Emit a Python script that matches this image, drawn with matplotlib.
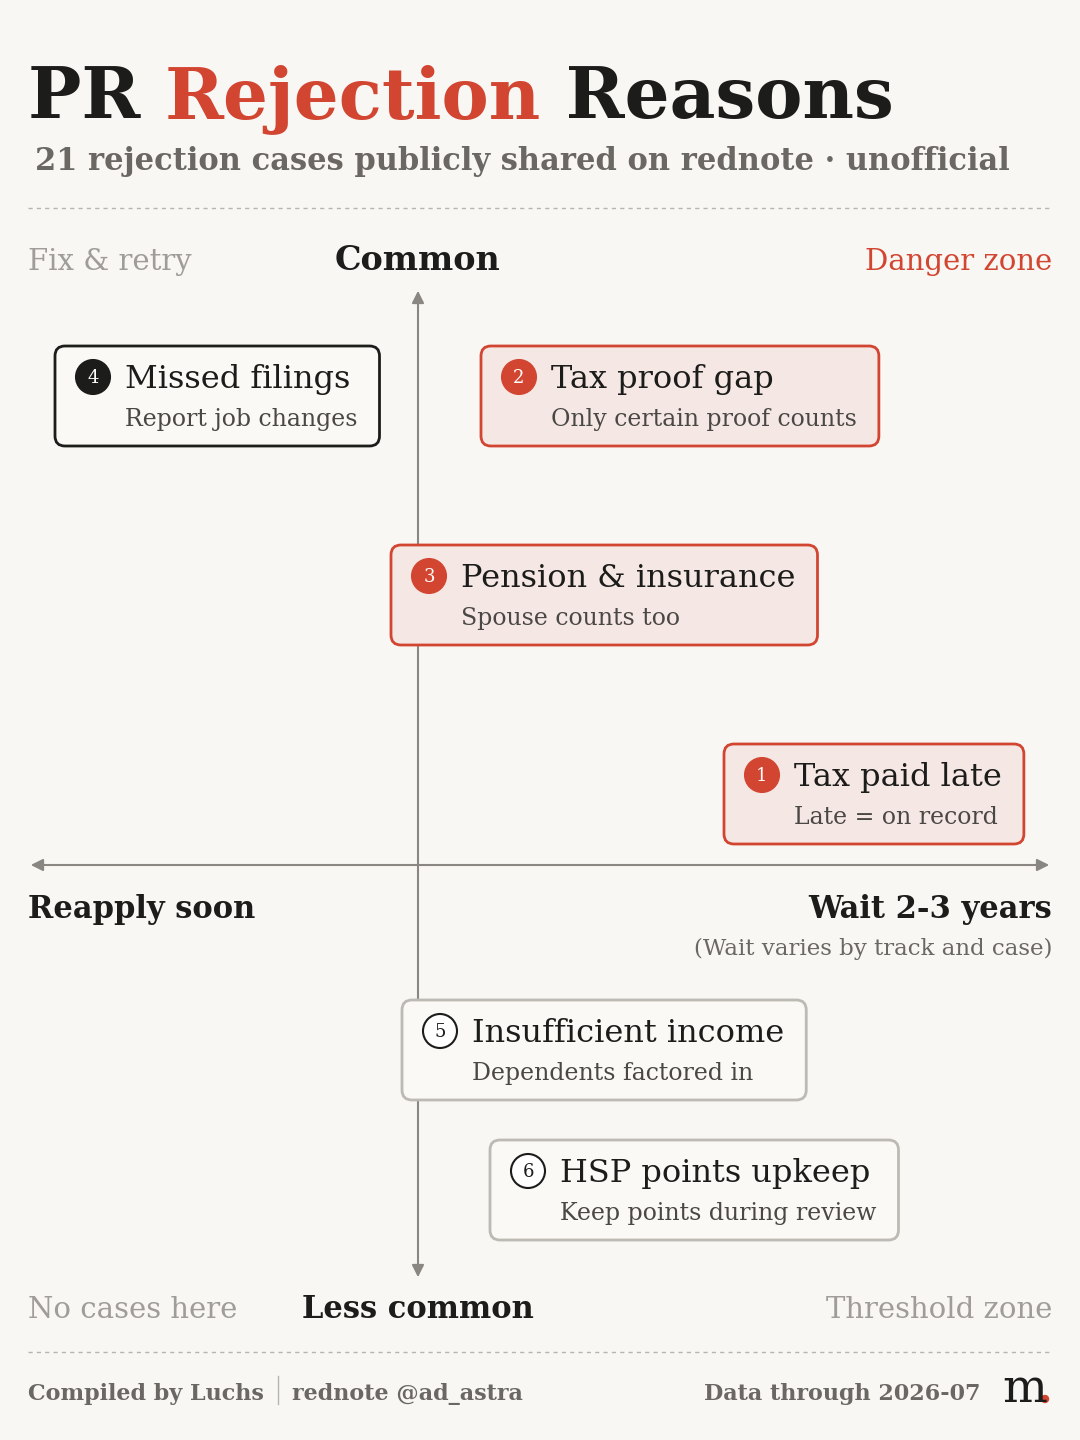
import matplotlib.pyplot as plt
from matplotlib.patches import FancyBboxPatch, Circle

RED = '#D24531'
DARK = '#1C1C1A'
GRAY = '#6B6864'
LIGHT = '#A09C97'
BG = '#F8F7F4'

# reasons: rank, title, note, box left (px), box centre (px), style
ranks = [4, 2, 3, 1, 5, 6]
titles = ['Missed filings', 'Tax proof gap', 'Pension & insurance',
          'Tax paid late', 'Insufficient income', 'HSP points upkeep']
notes = ['Report job changes', 'Only certain proof counts', 'Spouse counts too',
         'Late = on record', 'Dependents factored in', 'Keep points during review']
box_x = [55, 481, 391, 724, 402, 490]
box_y = [396, 396, 595, 794, 1050, 1190]
kinds = ['dark', 'red', 'red', 'red', 'gray', 'gray']

plt.rcParams['font.family'] = ['DejaVu Serif']
fig = plt.figure(figsize=(10.8, 14.4), dpi=100, facecolor=BG)
ax = fig.add_axes([0, 0, 1, 1])
ax.set_xlim(0, 1080)
ax.set_ylim(1440, 0)
ax.axis('off')

fig.canvas.draw()
r = fig.canvas.get_renderer()
inv = ax.transData.inverted()
def right(t):
    bb = t.get_window_extent(r)
    return inv.transform((bb.x1, bb.y0))[0]

# header
t1 = ax.text(28, 118, 'PR ', fontsize=51, weight='bold', color=DARK)
t2 = ax.text(right(t1), 118, 'Rejection', fontsize=51, weight='bold', color=RED)
ax.text(right(t2), 118, ' Reasons', fontsize=51, weight='bold', color=DARK)
ax.text(35, 170, '21 rejection cases publicly shared on rednote · unofficial',
        fontsize=22, color=GRAY, weight='bold')
for yy in (208, 1352):
    ax.plot([28, 1052], [yy, yy], ls=(0, (3, 3)), color='#B8B4AE', lw=1)

# axes
ax.annotate('', xy=(1052, 865), xytext=(28, 865),
            arrowprops=dict(arrowstyle='<|-|>', color='#8A8782', lw=1.5, mutation_scale=18))
ax.annotate('', xy=(418, 288), xytext=(418, 1280),
            arrowprops=dict(arrowstyle='<|-|>', color='#8A8782', lw=1.5, mutation_scale=18))

ax.text(28, 270, 'Fix & retry', fontsize=21, color=LIGHT)
ax.text(418, 270, 'Common', fontsize=24, color=DARK, ha='center', weight='bold')
ax.text(1052, 270, 'Danger zone', fontsize=21, color=RED, ha='right')
ax.text(28, 918, 'Reapply soon', fontsize=22, color=DARK, weight='bold')
ax.text(1052, 918, 'Wait 2-3 years', fontsize=22, color=DARK, ha='right', weight='bold')
ax.text(1052, 955, '(Wait varies by track and case)', fontsize=16.5, color=GRAY, ha='right')
ax.text(28, 1318, 'No cases here', fontsize=21, color=LIGHT)
ax.text(418, 1318, 'Less common', fontsize=22, color=DARK, ha='center', weight='bold')
ax.text(1052, 1318, 'Threshold zone', fontsize=21, color=LIGHT, ha='right')

# boxes
styles = {'red': ('#F5E8E4', RED, RED, 'white', RED),
          'dark': ('#FAF9F6', DARK, DARK, 'white', DARK),
          'gray': ('#FAF9F6', '#BDB9B3', 'white', DARK, DARK)}
for rk, ti, no, x, y, k in zip(ranks, titles, notes, box_x, box_y, kinds):
    face, edge, cface, cnum, cedge = styles[k]
    a = ax.text(x + 70, y - 8, ti, fontsize=23, color=DARK, zorder=5)
    b = ax.text(x + 70, y + 30, no, fontsize=17, color='#4A4744', zorder=5)
    w = max(right(a), right(b)) - x + 22
    ax.add_patch(FancyBboxPatch((x, y - 50), w, 100, boxstyle='round,pad=0,rounding_size=10',
                                fc=face, ec=edge, lw=2, zorder=3))
    ax.add_patch(Circle((x + 38, y - 19), 17, fc=cface, ec=cedge, lw=1.5, zorder=4))
    ax.text(x + 38, y - 18, str(rk), fontsize=13, color=cnum, ha='center', va='center', zorder=5)

# footer
f1 = ax.text(28, 1400, 'Compiled by Luchs', fontsize=16, color=GRAY, weight='bold')
sx = right(f1) + 14
ax.plot([sx, sx], [1376, 1404], color='#B8B4AE', lw=1)
ax.text(sx + 14, 1400, 'rednote @ad_astra', fontsize=16, color=GRAY, weight='bold')
ax.text(980, 1400, 'Data through 2026-07', fontsize=16, color=GRAY, ha='right', weight='bold')
ax.text(1025, 1402, 'm', fontsize=34, color=DARK, ha='center')
ax.add_patch(Circle((1045, 1399), 3.5, color=RED))

fig.savefig('out.png', dpi=100, facecolor=BG)
